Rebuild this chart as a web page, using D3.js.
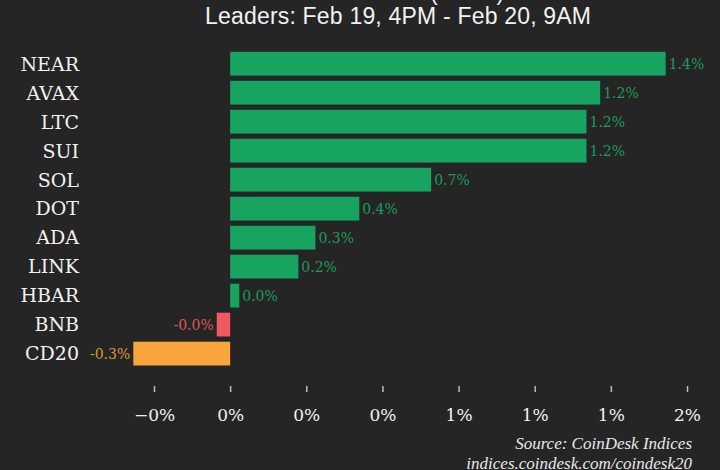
<!DOCTYPE html>
<html>
<head>
<meta charset="utf-8">
<script src="https://cdn.jsdelivr.net/npm/d3@7"></script>
<style>
  html, body { margin: 0; padding: 0; background: #252525; }
  svg { display: block; }
</style>
</head>
<body>
<svg id="chart" width="720" height="470"></svg>
<script>
const categories = ["NEAR", "AVAX", "LTC", "SUI", "SOL", "DOT", "ADA", "LINK", "HBAR", "BNB", "CD20"];
const values = [1.43, 1.215, 1.17, 1.17, 0.66, 0.424, 0.28, 0.224, 0.03, -0.044, -0.318];
const tickValues = [-0.25, 0, 0.25, 0.5, 0.75, 1.0, 1.25, 1.5];
const tickLabels = ["\u22120%", "0%", "0%", "0%", "1%", "1%", "1%", "2%"];
const titleLines = ["CoinDesk 20 (CD20)", "Leaders: Feb 19, 4PM - Feb 20, 9AM"];
const sourceLines = ["Source: CoinDesk Indices", "indices.coindesk.com/coindesk20"];

const W = 720, H = 470;
const svg = d3.select("#chart");
svg.append("rect").attr("width", W).attr("height", H).attr("fill", "#252525");

const x = d3.scaleLinear().domain([-0.25, 1.5]).range([154, 687]);
const y = d3.scaleBand().domain(categories).range([46.6, 370.7]).padding(0.18);

function barColor(d, i) {
  if (categories[i] === "CD20") return "#f8a53b";
  return d < 0 ? "#ef5a62" : "#17a460";
}
function labelColor(d, i) {
  if (categories[i] === "CD20") return "#d99734";
  return d < 0 ? "#dc575c" : "#1f9a5c";
}

// title
svg.append("g").selectAll("text").data(titleLines).join("text")
  .attr("x", 398)
  .attr("y", (d, i) => i === 0 ? 0 : 24)
  .attr("text-anchor", "middle")
  .attr("font-family", "'Liberation Sans', Arial, sans-serif")
  .attr("font-size", 23)
  .attr("textLength", (d, i) => i === 0 ? null : 386)
  .attr("fill", "#f2f2f2")
  .text(d => d);

// bars
svg.append("g").selectAll("rect").data(values).join("rect")
  .attr("x", d => x(Math.min(0, d)))
  .attr("y", (d, i) => y(categories[i]))
  .attr("width", d => Math.abs(x(d) - x(0)))
  .attr("height", y.bandwidth())
  .attr("fill", barColor);

// value labels
svg.append("g").selectAll("text").data(values).join("text")
  .attr("x", d => d < 0 ? x(d) - 3 : x(d) + 3)
  .attr("y", (d, i) => y(categories[i]) + y.bandwidth() / 2)
  .attr("dy", "0.36em")
  .attr("text-anchor", d => d < 0 ? "end" : "start")
  .attr("font-family", "'DejaVu Serif', Georgia, serif")
  .attr("font-size", 14)
  .attr("fill", labelColor)
  .text(d => d.toFixed(1) + "%");

// category labels
svg.append("g").selectAll("text").data(categories).join("text")
  .attr("x", 79)
  .attr("y", d => y(d) + y.bandwidth() / 2)
  .attr("dy", "0.36em")
  .attr("text-anchor", "end")
  .attr("font-family", "'DejaVu Serif', Georgia, serif")
  .attr("font-size", 19)
  .attr("fill", "#f2f2f2")
  .text(d => d);

// x axis
const axis = d3.axisBottom(x)
  .tickValues(tickValues)
  .tickFormat((d, i) => tickLabels[i])
  .tickSizeInner(6)
  .tickSizeOuter(0)
  .tickPadding(17);
const gx = svg.append("g").attr("transform", "translate(0,386)").call(axis);
gx.select(".domain").remove();
gx.selectAll(".tick line").attr("stroke", "#bdbdbd").attr("stroke-width", 1.5);
gx.selectAll(".tick text")
  .attr("fill", "#f2f2f2")
  .attr("font-family", "'DejaVu Serif', Georgia, serif")
  .attr("font-size", 17);

// source
svg.append("g").selectAll("text").data(sourceLines).join("text")
  .attr("x", 692)
  .attr("y", (d, i) => 449 + i * 20)
  .attr("text-anchor", "end")
  .attr("font-family", "'Liberation Serif', 'Times New Roman', serif")
  .attr("font-style", "italic")
  .attr("font-size", 17)
  .attr("fill", "#e8e8e8")
  .text(d => d);
</script>
</body>
</html>
